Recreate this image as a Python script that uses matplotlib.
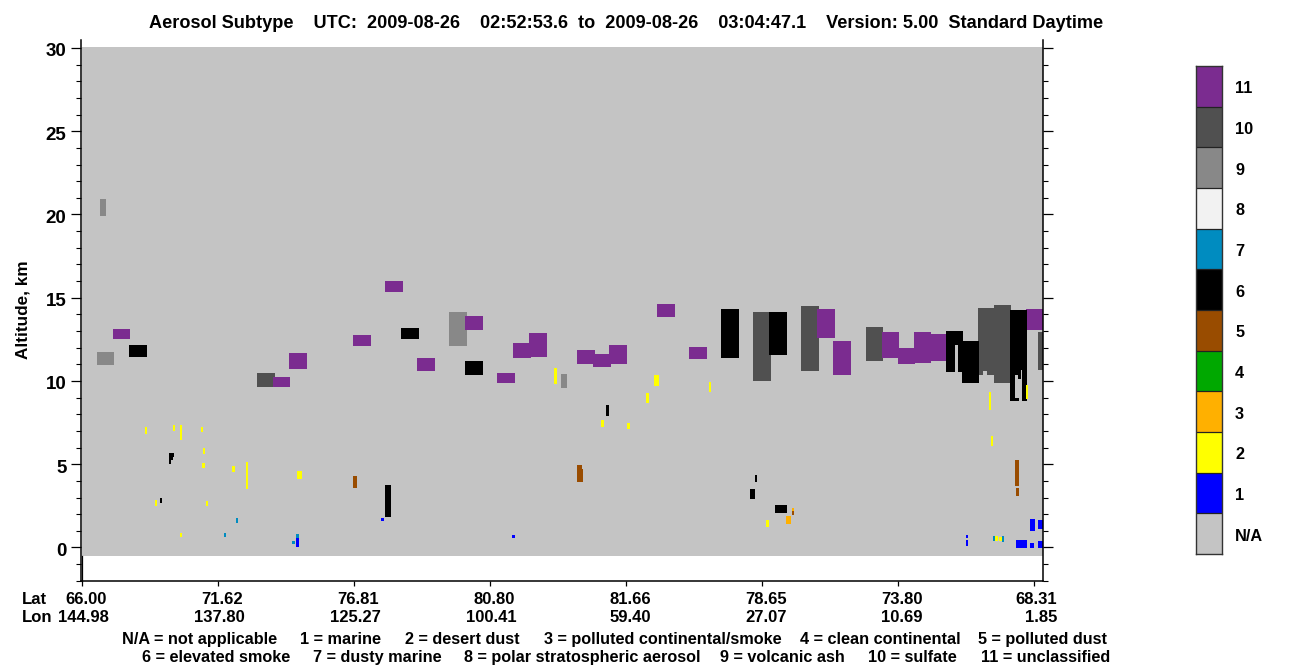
#!/usr/bin/env python3
"""CALIPSO style aerosol subtype curtain, redrawn from blocks read off the image."""

import matplotlib

matplotlib.use("Agg")
import matplotlib.pyplot as plt
from matplotlib.colors import ListedColormap
from matplotlib.ticker import MultipleLocator
from matplotlib.transforms import ScaledTranslation

# blocks are (first profile, last profile, base km, top km)
MARINE = [
    (214, 217, 0.03, 0.57), (299, 302, 1.59, 1.77), (430, 433, 0.57, 0.75),
    (884, 886, 0.57, 0.75), (884, 886, 0.09, 0.45), (934, 945, -0.03, 0.45),
    (948, 953, 0.99, 1.71), (956, 960.5, 1.11, 1.65), (948, 952, -0.03, 0.27),
    (956, 960.5, -0.03, 0.39),
]
DESERT_DUST = [
    (63, 65, 6.82, 7.24), (91, 93, 7.00, 7.36), (98, 100, 6.46, 7.36),
    (119, 121, 6.94, 7.24), (121, 123, 5.62, 5.98), (120, 123, 4.77, 5.08),
    (150, 153, 4.53, 4.89), (164, 166, 3.51, 5.14), (215, 220, 4.11, 4.59),
    (73, 75, 2.49, 2.85), (124, 126, 2.49, 2.79), (98, 100, 0.63, 0.87),
    (472, 475, 9.82, 10.78), (572, 577, 9.70, 10.36), (564, 567, 8.68, 9.28),
    (627, 629, 9.34, 9.94), (519, 522, 7.24, 7.66), (545, 548, 7.12, 7.48),
    (684, 687, 1.23, 1.65), (907, 909, 8.26, 9.34), (909, 911, 6.10, 6.70),
    (944, 946, 8.92, 9.76), (913, 916, 0.39, 0.69), (917, 920, 0.39, 0.63),
]
POLLUTED_SMOKE = [(704, 709, 1.41, 1.89), (710, 712, 2.19, 2.37)]
POLLUTED_DUST = [
    (271, 275, 3.57, 4.29), (495, 500, 4.71, 4.95), (495, 501, 3.93, 4.71),
    (710, 712, 1.95, 2.19), (933, 937, 3.69, 5.26), (934, 937, 3.09, 3.57),
]
ELEVATED_SMOKE = [
    (47, 65, 11.44, 12.16), (319, 337, 12.52, 13.18), (383, 401, 10.36, 11.20),
    (639, 657, 11.38, 14.32), (687, 705, 11.56, 14.14), (864, 873, 10.54, 13.00),
    (873, 876, 12.16, 13.00), (876, 881, 10.54, 13.00), (880, 897, 9.88, 12.40),
    (928, 945, 10.66, 14.26), (928, 939, 10.36, 10.66), (928, 933, 8.80, 10.36),
    (928, 937, 8.80, 8.98), (936, 939, 10.12, 10.36), (940, 945, 8.80, 10.66),
    (524, 527, 7.90, 8.56), (87, 92, 5.44, 5.68), (87, 91, 5.26, 5.44),
    (87, 89, 5.02, 5.26), (78, 80, 2.67, 2.97), (303, 309, 1.83, 3.75),
    (673, 675, 3.93, 4.35), (668, 673, 2.91, 3.51), (693, 705, 2.07, 2.55),
]
DUSTY_MARINE = [
    (154, 156, 1.47, 1.77), (142, 144, 0.63, 0.87), (214, 217, 0.57, 0.81),
    (210, 213, 0.21, 0.39), (911, 913, 0.39, 0.69), (920, 922, 0.33, 0.69),
    (935, 936, 0.21, 0.45),
]
VOLCANIC_ASH = [
    (15, 32, 10.96, 11.74), (18, 24, 19.91, 20.93), (367, 385, 12.10, 14.14),
    (479, 485, 9.58, 10.42),
]
SULFATE = [
    (175, 193, 9.64, 10.48), (671, 689, 10.00, 14.14), (719, 737, 10.60, 14.50),
    (784, 801, 11.20, 13.24), (896, 901, 10.36, 14.38), (901, 905, 10.60, 14.38),
    (905, 912, 10.36, 14.38), (912, 929, 9.88, 14.56), (956, 960.5, 10.66, 12.94),
]
UNCLASSIFIED = [
    (31, 48, 12.52, 13.12), (207, 225, 10.72, 11.68), (191, 208, 9.64, 10.24),
    (303, 321, 15.35, 16.01), (271, 289, 12.10, 12.76), (335, 353, 10.60, 11.38),
    (383, 401, 13.06, 13.90), (415, 433, 9.88, 10.48), (431, 449, 11.38, 12.28),
    (447, 465, 11.44, 12.88), (495, 513, 11.02, 11.86), (511, 529, 10.84, 11.62),
    (527, 545, 11.02, 12.16), (575, 593, 13.84, 14.62), (607, 625, 11.32, 12.04),
    (735, 753, 12.58, 14.32), (751, 769, 10.36, 12.40), (800, 817, 11.38, 12.94),
    (816, 833, 11.02, 11.98), (832, 849, 11.08, 12.94), (849, 865, 11.20, 12.82),
    (944, 960.5, 13.06, 14.32),
]

SUBTYPE_LABELS = ["N/A", "1", "2", "3", "4", "5", "6", "7", "8", "9", "10", "11"]
SUBTYPE_COLORS = [
    "#c4c4c4", "#0000ff", "#ffff00", "#ffb000", "#00a800", "#994c00",
    "#000000", "#008cc0", "#f2f2f2", "#888888", "#505050", "#7b2c90",
]
LAT_LABELS = ["66.00", "71.62", "76.81", "80.80", "81.66", "78.65", "73.80", "68.31"]
LON_LABELS = ["144.98", "137.80", "125.27", "100.41", "59.40", "27.07", "10.69", "1.85"]
LAT_TICKS = [0, 136, 272, 408, 544, 680, 816, 952]

KEY_ROW_1 = ["N/A = not applicable", "1 = marine", "2 = desert dust",
             "3 = polluted continental/smoke", "4 = clean continental", "5 = polluted dust"]
KEY_ROW_2 = ["6 = elevated smoke", "7 = dusty marine", "8 = polar stratospheric aerosol",
             "9 = volcanic ash", "10 = sulfate", "11 = unclassified"]

LAYERS = [
    (VOLCANIC_ASH, 9), (SULFATE, 10), (UNCLASSIFIED, 11), (ELEVATED_SMOKE, 6),
    (POLLUTED_DUST, 5), (POLLUTED_SMOKE, 3), (DUSTY_MARINE, 7), (MARINE, 1),
    (DESERT_DUST, 2),
]

W, H = 1300, 667
FONT = "Liberation Sans"


def px_axes(fig, left, right, top, bottom):
    return fig.add_axes([left / W, 1 - bottom / H, (right - left) / W, (bottom - top) / H])


def draw_blocks(ax, blocks, color):
    for x0, x1, base, top in blocks:
        ax.bar(x0, top - base, width=x1 - x0, bottom=base, align="edge",
               color=color, linewidth=0, antialiased=False)


def nudge_down(fig, labels, pixels):
    shift = ScaledTranslation(0, -pixels / fig.dpi, fig.dpi_scale_trans)
    for label in labels:
        label.set_transform(label.get_transform() + shift)


def main():
    plt.rcParams.update({"font.family": FONT, "font.weight": "bold"})
    fig = plt.figure(figsize=(W / 100, H / 100), dpi=100)

    ax = px_axes(fig, 81, 1042.5, 40, 580.8)
    ax.set_xlim(-1, 960.5)
    ax.set_ylim(-2, 30.48)
    ax.bar(-0.5, 30.55, width=961, bottom=-0.5, align="edge",
           color=SUBTYPE_COLORS[0], linewidth=0)
    for blocks, subtype in LAYERS:
        draw_blocks(ax, blocks, SUBTYPE_COLORS[subtype])

    ax.spines["top"].set_visible(False)
    ax.spines["left"].set_linewidth(1.1)
    ax.spines["right"].set_linewidth(1.1)
    ax.spines["bottom"].set_linewidth(1.1)
    ax.yaxis.set_major_locator(MultipleLocator(5))
    ax.yaxis.set_minor_locator(MultipleLocator(1))
    ax.tick_params(axis="y", which="major", left=True, right=True, length=7.5,
                   width=0.9, labelsize=13.5, pad=3)
    ax.tick_params(axis="y", which="minor", left=True, right=True, length=3.8, width=0.8)
    nudge_down(fig, ax.get_yticklabels(), 2)
    fig.text(23 / W, 1 - 310 / H, "Altitude, km", rotation=90, ha="center", va="center",
             fontsize=12.3)

    ax.set_xticks(LAT_TICKS)
    ax.set_xticklabels([])
    ax.tick_params(axis="x", direction="out", length=3.8, width=0.9)
    ax.plot([0, 0], [-2, -0.5], color="black", linewidth=0.9, clip_on=False)

    # lat/lon rows sit under the axis, in figure pixels
    for x, lat, lon in zip(LAT_TICKS, LAT_LABELS, LON_LABELS):
        lat_right = min(82 + x + 25, 1057)
        lon_right = min(82 + x + (27 if len(lon) == 6 else 25), 1057)
        fig.text(lat_right / W, 1 - 599 / H, lat, ha="right", va="center", fontsize=12)
        fig.text(lon_right / W, 1 - 617.5 / H, lon, ha="right", va="center", fontsize=12)
    fig.text(22 / W, 1 - 599 / H, "Lat", ha="left", va="center", fontsize=12)
    fig.text(22 / W, 1 - 617.5 / H, "Lon", ha="left", va="center", fontsize=12)

    fig.text(626 / W, 1 - 23 / H,
             "Aerosol Subtype    UTC:  2009-08-26    02:52:53.6  to  2009-08-26    "
             "03:04:47.1    Version: 5.00  Standard Daytime",
             ha="center", va="center", fontsize=13.05)
    for label, px in zip(KEY_ROW_1, [122.5, 300.5, 405, 544, 800.5, 977.5]):
        fig.text(px / W, 1 - 639.5 / H, label, ha="left", va="center", fontsize=11.7)
    for label, px in zip(KEY_ROW_2, [142.5, 313, 464.5, 720, 868, 981]):
        fig.text(px / W, 1 - 657.5 / H, label, ha="left", va="center", fontsize=11.7)

    # key on the right
    cax = px_axes(fig, 1196, 1222, 66, 554)
    cmap = ListedColormap(SUBTYPE_COLORS)
    cax.imshow([[i] for i in range(12)], origin="lower", aspect="auto",
               cmap=cmap, vmin=-0.5, vmax=11.5, interpolation="nearest")
    cax.set_xticks([])
    cax.set_yticks(range(12))
    cax.set_yticklabels(SUBTYPE_LABELS, fontsize=11.7)
    cax.yaxis.tick_right()
    cax.tick_params(axis="y", length=0, pad=9.4)
    nudge_down(fig, cax.get_yticklabels(), 1)
    for edge in range(1, 12):
        cax.axhline(edge - 0.5, color="#222222", linewidth=0.9)
    for spine in cax.spines.values():
        spine.set_linewidth(1.0)
        spine.set_color("#333333")

    fig.savefig("out.png", dpi=100)


if __name__ == "__main__":
    main()
